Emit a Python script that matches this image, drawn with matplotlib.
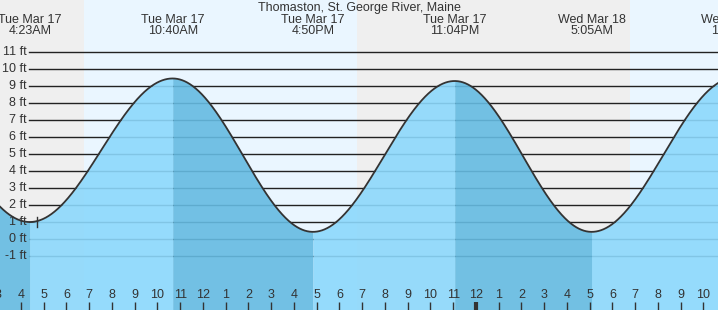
import numpy as np
import matplotlib
matplotlib.use("Agg")
import matplotlib.pyplot as plt
from matplotlib import transforms

plt.rcParams['font.family'] = ['Liberation Sans', 'DejaVu Sans']

# ---- data (hours measured from Tue Mar 17 00:00) ----
title = "Thomaston, St. George River, Maine"
extreme_hours = [-1.75, 4.383, 10.667, 16.833, 23.067, 29.083, 35.4]
extreme_heights = [9.4, 0.98, 9.45, 0.4, 9.3, 0.4, 9.5]
extreme_labels = [None, "Tue Mar 17\n4:23AM", "Tue Mar 17\n10:40AM", "Tue Mar 17\n4:50PM",
                  "Tue Mar 17\n11:04PM", "Wed Mar 18\n5:05AM", "Wed Mar 18\n11:24AM"]
sun_events = [6.77, 18.77, 30.77]   # sunrise, sunset, sunrise
ft_levels = list(range(-1, 12))
hour_ticks = list(range(3, 35))
now_hour = 4.7
now_height = 1.0

x0, x1 = 3.077, 34.64
y0, y1 = -4.21, 14.08
FS = 9.0

fig = plt.figure(figsize=(7.18, 3.10), dpi=100)
ax = fig.add_axes([0, 0, 1, 1])
ax.set_xlim(x0, x1)
ax.set_ylim(y0, y1)
ax.axis('off')

night = '#efefef'
day = '#eaf6ff'
# day/night backgrounds
bounds = [x0 - 1] + sun_events + [x1 + 1]
for i in range(len(bounds) - 1):
    ax.axvspan(bounds[i], bounds[i + 1], color=night if i % 2 == 0 else day, zorder=0, lw=0)

# grid lines
for lv in ft_levels:
    ax.axhline(lv, xmin=0.0404, xmax=1, color='#222222', lw=1.0, zorder=1)

# tide curve (cosine between extremes)
t = np.linspace(x0 - 0.5, x1 + 0.5, 3000)
h = np.empty_like(t)
for i in range(len(extreme_hours) - 1):
    ta, tb = extreme_hours[i], extreme_hours[i + 1]
    ha, hb = extreme_heights[i], extreme_heights[i + 1]
    m = (t >= ta) & (t <= tb)
    f = (t[m] - ta) / (tb - ta)
    h[m] = hb + (ha - hb) * (1 + np.cos(np.pi * f)) / 2

light = (140 / 255, 216 / 255, 252 / 255)
dark = (101 / 255, 187 / 255, 226 / 255)
for i in range(len(extreme_hours) - 1):
    ta, tb = extreme_hours[i], extreme_hours[i + 1]
    m = (t >= ta - 0.01) & (t <= tb + 0.01)
    falling = extreme_heights[i] > extreme_heights[i + 1]
    ax.fill_between(t[m], y0 - 1, h[m], color=dark if falling else light,
                    alpha=0.9, lw=0, zorder=2)

ax.plot(t, h, color='#333333', lw=1.3, zorder=4)

# now marker
ax.plot([now_hour, now_hour], [now_height - 0.3, now_height + 0.3], color='#333333', lw=1.0, zorder=4)

# ft labels
tr_ft = transforms.blended_transform_factory(ax.transAxes, ax.transData)
for lv in ft_levels:
    ax.text(0.0376, lv, f"{lv} ft", transform=tr_ft, ha='right', va='center',
            fontsize=FS, color='#333333', zorder=5)

# hour ticks and labels
tr_x = transforms.blended_transform_factory(ax.transData, ax.transAxes)
for hr in hour_ticks:
    lab = hr % 12
    if lab == 0:
        lab = 12
    ax.text(hr, 1 - 295.5 / 310, str(lab), transform=tr_x, ha='center', va='center',
            fontsize=FS, color='#333333', zorder=5)
    ax.plot([hr, hr], [0, 8 / 310], transform=tr_x, color='#333333',
            lw=3 if hr == 24 else 1.0, zorder=5, solid_capstyle='butt')

# extreme labels on top
for hr, lab in zip(extreme_hours, extreme_labels):
    if lab is None:
        continue
    ax.text(hr, 1 - 25.5 / 310, lab, transform=tr_x, ha='center', va='center',
            fontsize=FS, color='#333333', linespacing=0.95, zorder=5)

ax.text(0.5, 1 - 7.5 / 310, title, transform=ax.transAxes, ha='center', va='center',
        fontsize=FS, color='#333333', zorder=5)

fig.savefig('out.png', dpi=100)
